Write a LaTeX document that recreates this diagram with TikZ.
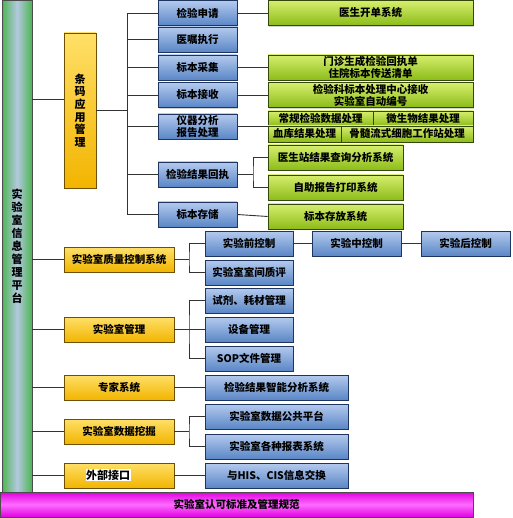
\documentclass[tikz,border=0pt]{standalone}
\usepackage{fontspec}
\newfontfamily\cjk{Noto Sans CJK SC}
\usepackage{tikz}
\usetikzlibrary{shadows}
\definecolor{blutop}{HTML}{B4CAEE}
\definecolor{blubot}{HTML}{5A86C6}
\definecolor{bluedge}{HTML}{1E3560}
\definecolor{grntop}{HTML}{D6EE6E}
\definecolor{grnbot}{HTML}{8CBC18}
\definecolor{grnedge}{HTML}{34480A}
\definecolor{yeltop}{HTML}{FFE068}
\definecolor{yelbot}{HTML}{F2B400}
\definecolor{yeledge}{HTML}{6E5000}
\definecolor{platgrn}{HTML}{4DB552}
\definecolor{platmid}{HTML}{B4C8E0}
\definecolor{magtop}{HTML}{E000E0}
\definecolor{magmid}{HTML}{FF6CFF}
\definecolor{linegray}{HTML}{333333}
\tikzset{
  lisbox/.style={draw=#1,line width=0.8pt,inner sep=0pt,align=center,
                 font=\cjk\bfseries\fontsize{10.5}{12}\selectfont,
                 drop shadow={shadow xshift=1.2pt,shadow yshift=-1.2pt,opacity=.35}},
  blubox/.style={lisbox=bluedge,top color=blutop,bottom color=blubot,minimum height=25pt},
  grnbox/.style={lisbox=grnedge,top color=grntop,bottom color=grnbot,minimum height=25pt},
  yelbox/.style={lisbox=yeledge,top color=yeltop,bottom color=yelbot,minimum height=25pt},
  celbox/.style={draw=grnedge,line width=0.6pt,inner sep=0pt,top color=grntop,bottom color=grnbot,
                 font=\cjk\bfseries\fontsize{10.5}{12}\selectfont},
  link/.style={draw=linegray,line width=0.9pt}}

\begin{document}
\begin{tikzpicture}[x=1pt,y=-1pt]
\useasboundingbox (0,0) rectangle (512,518);

% platform bar and base bar
\node[draw=black!70,line width=0.8pt,minimum width=30pt,minimum height=492pt,inner sep=0pt,
      left color=platgrn,right color=platgrn,middle color=platmid,align=center,
      font=\cjk\bfseries\fontsize{11}{13}\selectfont] (plat) at (17,246)
  {实\\验\\室\\信\\息\\管\\理\\平\\台};
\node[draw=black!70,line width=0.8pt,minimum width=473pt,minimum height=25pt,inner sep=0pt,
      top color=magtop,bottom color=magtop,middle color=magmid,
      font=\cjk\bfseries\fontsize{10.5}{12}\selectfont] (base) at (236.5,504.5) {实验室认可标准及管理规范};

% barcode block
\node[yelbox,minimum width=32pt,minimum height=155pt,font=\cjk\bfseries\fontsize{11}{12.7}\selectfont]
  (bar) at (80,110.5) {条\\码\\应\\用\\管\\理};
\coordinate (bus) at (127,110.5);

\begin{scope}[every node/.append style={font=\cjk\bfseries\fontsize{11}{12.5}\selectfont}]
\node[blubox,minimum width=79pt] (b1) at (197.5,13)    {检验申请};
\node[blubox,minimum width=79pt] (b2) at (197.5,39.5)  {医嘱执行};
\node[blubox,minimum width=79pt] (b3) at (197.5,67.5)  {标本采集};
\node[blubox,minimum width=79pt] (b4) at (197.5,95)    {标本接收};
\node[blubox,minimum width=79pt] (b5) at (197.5,126.5) {仪器分析\\报告处理};
\node[blubox,minimum width=79pt] (b6) at (197.5,174.5) {检验结果回执};
\node[blubox,minimum width=79pt] (b7) at (197.5,214.5) {标本存储};
\end{scope}

\node[grnbox,minimum width=205pt] (g1) at (370.5,13)   {医生开单系统};
\node[grnbox,minimum width=205pt] (g3) at (370.5,67.5) {门诊生成检验回执单\\住院标本传送清单};
\node[grnbox,minimum width=205pt] (g4) at (370.5,95)   {检验科标本处理中心接收\\实验室自动编号};
\node[celbox,minimum width=105pt,minimum height=15pt] (c1) at (320.5,118.5) {常规检验数据处理};
\node[celbox,minimum width=100pt,minimum height=15pt] (c2) at (423,118.5)   {微生物结果处理};
\node[celbox,minimum width=73pt,minimum height=16pt]  (c3) at (304.5,134)   {血库结果处理};
\node[celbox,minimum width=132pt,minimum height=16pt] (c4) at (407,134)     {骨髓流式细胞工作站处理};
\node[grnbox,minimum width=135pt] (g5) at (335.5,157.5) {医生站结果查询分析系统};
\node[grnbox,minimum width=135pt] (g6) at (335.5,187.5) {自助报告打印系统};
\node[grnbox,minimum width=135pt] (g7) at (335.5,216.5) {标本存放系统};
\coordinate (fork6) at (253,174.5);

% quality, management, expert, mining, interface
\node[yelbox,minimum width=110pt] (qc) at (119,259.5) {实验室质量控制系统};
\node[yelbox,minimum width=110pt] (mg) at (119,329.5) {实验室管理};
\node[yelbox,minimum width=110pt] (ex) at (119,387.5) {专家系统};
\node[yelbox,minimum width=110pt] (dm) at (119,431.5) {实验室数据挖掘};
\node[yelbox,minimum width=110pt] (io) at (119,475.5) {};
\node[fill=white,inner sep=0.5pt,font=\cjk\bfseries\fontsize{11}{12}\selectfont] (iot) at (108,475) {外部接口};

\node[blubox,minimum width=88pt] (qa) at (249,243.5)   {实验前控制};
\node[blubox,minimum width=89pt] (qm) at (356.5,243.5) {实验中控制};
\node[blubox,minimum width=89pt] (qp) at (465.5,243.5) {实验后控制};
\node[blubox,minimum width=88pt] (qb) at (249,272.5)   {实验室室间质评};
\node[blubox,minimum width=88pt] (ma) at (249,300.5)   {试剂、耗材管理};
\node[blubox,minimum width=88pt] (mb) at (249,329.5)   {设备管理};
\node[blubox,minimum width=88pt] (mc) at (249,358.5)   {SOP文件管理};
\node[blubox,minimum width=143pt] (ea) at (276.5,387.5) {检验结果智能分析系统};
\node[blubox,minimum width=143pt] (da) at (276.5,416.5) {实验室数据公共平台};
\node[blubox,minimum width=143pt] (db) at (276.5,446.5) {实验室各种报表系统};
\node[blubox,minimum width=143pt] (ia) at (276.5,475.5) {与HIS、CIS信息交换};
\coordinate (fq) at (189,259.5);
\coordinate (fm) at (189,329.5);
\coordinate (fd) at (189,431.5);

% connectors
\draw[link] ([yshift=11pt]bar.west) -- ([yshift=11pt]bar.west -| plat.east);
\draw[link] (bar.east) -- (bus);
\draw[link] (b1.west -| bus) -- (b7.west -| bus);
\foreach \b in {b1,b2,b3,b4,b5,b6,b7}
  \draw[link] (\b.west) -- (\b.west -| bus);
\draw[link] (b1.east) -- (g1.west);
\draw[link] (b3.east) -- (g3.west);
\draw[link] (b4.east) -- (g4.west);
\draw[link] (b5.east) -- (b5.east -| c1.west);
\draw[link] (b6.east) -- (fork6);
\draw[link] (g5.west) -| (fork6) |- (g6.west);
\draw[link] (b7.east) -- (g7.west);

\foreach \y in {qc,mg,ex,dm,io}
  \draw[link] (\y.west) -- (\y.west -| plat.east);
\draw[link] (qc.east) -- (fq);
\draw[link] (qa.west) -| (fq) |- (qb.west);
\draw[link] (qa.east) -- (qm.west);
\draw[link] (qm.east) -- (qp.west);
\draw[link] (mg.east) -- (fm);
\draw[link] (ma.west) -| (fm) |- (mc.west);
\draw[link] (mb.west) -- (fm);
\draw[link] (ex.east) -- (ea.west);
\draw[link] (dm.east) -- (fd);
\draw[link] (da.west) -| (fd) |- (db.west);
\draw[link] (io.east) -- (ia.west);
\end{tikzpicture}
\end{document}
